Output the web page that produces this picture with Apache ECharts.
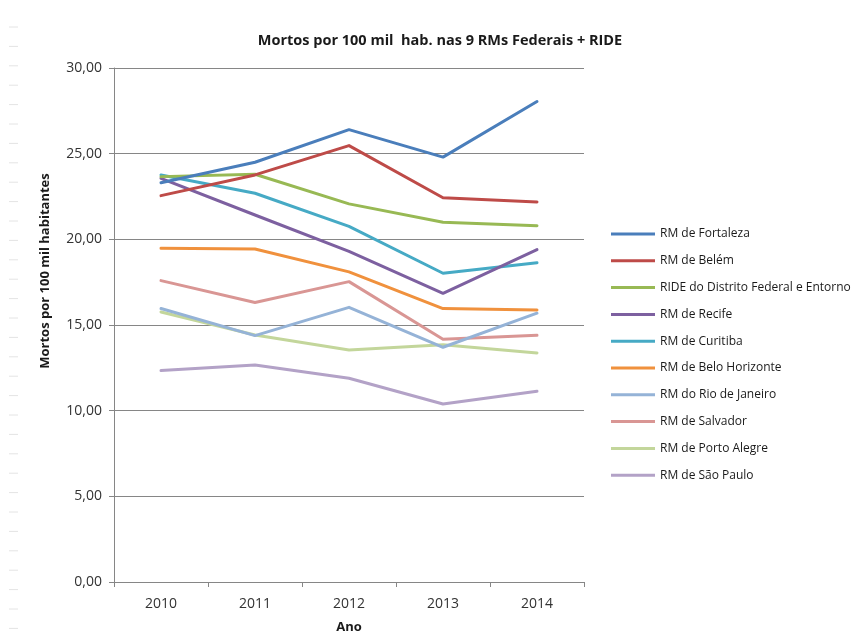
<!DOCTYPE html>
<html>
<head>
<meta charset="utf-8">
<script src="https://cdn.jsdelivr.net/npm/echarts@6/dist/echarts.min.js"></script>
<style>
  html, body { margin: 0; padding: 0; background: #fff; }
  #chart { width: 861px; height: 634px; }
</style>
</head>
<body>
<div id="chart"></div>
<script>
// Taxa de mortos por 100 mil habitantes, 2010-2014
const years = ['2010', '2011', '2012', '2013', '2014'];

const fortaleza     = [23.30, 24.50, 26.40, 24.80, 28.04];
const belem         = [22.55, 23.76, 25.47, 22.43, 22.18];
const ride          = [23.66, 23.80, 22.07, 21.00, 20.80];
const recife        = [23.56, 21.42, 19.30, 16.85, 19.40];
const curitiba      = [23.76, 22.69, 20.76, 18.02, 18.64];
const beloHorizonte = [19.48, 19.44, 18.10, 15.96, 15.88];
const rioDeJaneiro  = [15.96, 14.38, 16.03, 13.70, 15.69];
const salvador      = [17.59, 16.31, 17.53, 14.17, 14.40];
const portoAlegre   = [15.76, 14.42, 13.54, 13.85, 13.37];
const saoPaulo      = [12.34, 12.67, 11.89, 10.39, 11.13];

const seriesNames = [
  'RM de Fortaleza', 'RM de Belém', 'RIDE do Distrito Federal e Entorno',
  'RM de Recife', 'RM de Curitiba', 'RM de Belo Horizonte',
  'RM do Rio de Janeiro', 'RM de Salvador', 'RM de Porto Alegre', 'RM de São Paulo'
];
const seriesData = [
  fortaleza, belem, ride, recife, curitiba, beloHorizonte,
  rioDeJaneiro, salvador, portoAlegre, saoPaulo
];
const colors = [
  '#4a7ebb', '#be4b48', '#98b954', '#7d60a0', '#46aac5', '#f0913d',
  '#95b3d7', '#d99694', '#c3d69b', '#b3a2c7'
];

const yTicks = { min: 0, max: 30, interval: 5 };

const font = '"Open Sans", "Noto Sans", sans-serif';
const chart = echarts.init(document.getElementById('chart'), null, { renderer: 'canvas' });

// faint worksheet row marks along the left edge
const edgeMarks = [];
for (let i = 0; i < 32; i++) {
  edgeMarks.push({
    type: 'line',
    shape: { x1: 9, y1: 27 + i * 19.4, x2: 18, y2: 27 + i * 19.4 },
    style: { stroke: '#e4e4e4', lineWidth: 1 },
    silent: true
  });
}

chart.setOption({
  animation: false,
  backgroundColor: '#ffffff',
  color: colors,
  title: {
    text: 'Mortos por 100 mil  hab. nas 9 RMs Federais + RIDE',
    left: 435,
    top: 28,
    textAlign: 'center',
    textStyle: { fontFamily: font, fontSize: 14.5, fontWeight: 'bold', color: '#1a1a1a' }
  },
  graphic: edgeMarks,
  grid: { left: 114, right: 277, top: 68, bottom: 52, containLabel: false, outerBoundsMode: 'none' },
  legend: {
    orient: 'vertical',
    left: 606,
    top: 223,
    itemWidth: 44,
    itemHeight: 3,
    itemGap: 14.8,
    icon: 'rect',
    data: seriesNames,
    textStyle: { fontFamily: font, fontSize: 12, color: '#1a1a1a' }
  },
  xAxis: {
    type: 'category',
    data: years,
    boundaryGap: true,
    name: 'Ano',
    nameLocation: 'middle',
    nameGap: 39,
    nameTextStyle: { fontFamily: font, fontSize: 13, fontWeight: 'bold', color: '#1a1a1a' },
    axisLine: { lineStyle: { color: '#868686', width: 1 } },
    axisTick: { show: true, alignWithLabel: false, inside: false, length: 5, lineStyle: { color: '#868686' } },
    axisLabel: { fontFamily: font, fontSize: 14, color: '#333', margin: 15 },
    splitLine: { show: false }
  },
  yAxis: {
    type: 'value',
    min: yTicks.min,
    max: yTicks.max,
    interval: yTicks.interval,
    name: 'Mortos por 100 mil habitantes',
    nameLocation: 'middle',
    nameRotate: 90,
    nameGap: 62,
    nameTextStyle: { fontFamily: font, fontSize: 13, fontWeight: 'bold', color: '#1a1a1a', padding: [0, 0, 0, 108] },
    axisLine: { show: true, lineStyle: { color: '#868686', width: 1 } },
    axisTick: { show: true, length: 5, lineStyle: { color: '#868686' } },
    axisLabel: {
      fontFamily: font, fontSize: 14, color: '#333', margin: 12,
      formatter: v => v.toFixed(2).replace('.', ',')
    },
    splitLine: { show: true, lineStyle: { color: '#868686', width: 1 } }
  },
  series: seriesNames.map((name, i) => ({
    name: name,
    type: 'line',
    data: seriesData[i],
    symbol: 'none',
    smooth: false,
    z: 20 - i,
    lineStyle: { width: 3, color: colors[i], cap: 'round', join: 'round' },
    itemStyle: { color: colors[i] },
    emphasis: { disabled: true }
  }))
});
</script>
</body>
</html>
